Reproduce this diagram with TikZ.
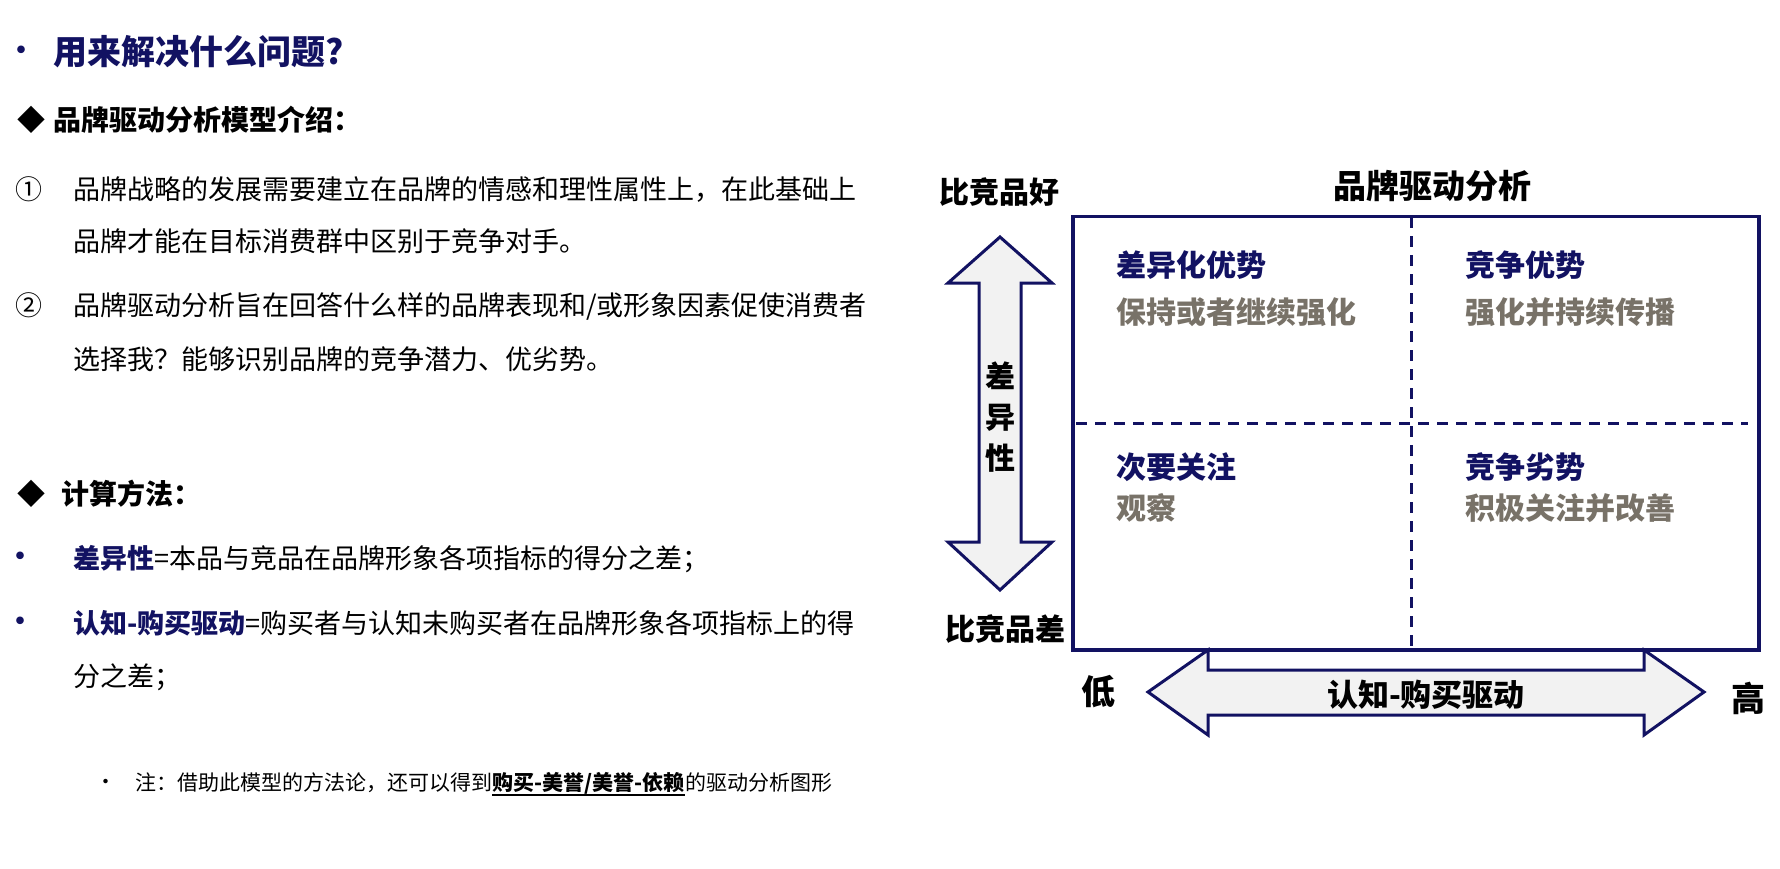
\documentclass[tikz,border=0pt]{standalone}
\usepackage{fontspec}
\setmainfont{Noto Sans CJK SC}
\definecolor{navy}{RGB}{18,18,98}
\definecolor{warmgray}{RGB}{120,114,104}
\definecolor{arrowfill}{RGB}{242,242,242}
\tikzset{
  txt/.style={inner sep=0pt, anchor=base west},
  ctxt/.style={inner sep=0pt, anchor=base},
  titlefont/.style={font=\fontsize{34}{34}\selectfont\bfseries, text=navy},
  headfont/.style={font=\fontsize{28}{28}\selectfont\bfseries},
  bodyfont/.style={font=\fontsize{27}{27}\selectfont},
  bulletfont/.style={font=\fontsize{36}{36}\selectfont, text=navy},
  notefont/.style={font=\fontsize{21}{21}\selectfont},
  notebold/.style={font=\fontsize{21}{21}\selectfont\bfseries},
  axisfont/.style={font=\fontsize{30}{30}\selectfont\bfseries},
  quadhead/.style={font=\fontsize{30}{30}\selectfont\bfseries, text=navy},
  quadsub/.style={font=\fontsize{30}{30}\selectfont\bfseries, text=warmgray},
  bigfont/.style={font=\fontsize{34}{34}\selectfont\bfseries},
  boxline/.style={draw=navy, line width=3.5pt},
  dashline/.style={draw=navy, line width=3pt, dash pattern=on 11pt off 8pt},
  blockarrow/.style={draw=navy, fill=arrowfill, line width=3pt, line join=miter},
}
\begin{document}
\begin{tikzpicture}[x=1pt,y=-1pt]
\fill[white] (0,0) rectangle (1780,869);
\useasboundingbox (0,0) rectangle (1780,869);

% ---------- left column ----------
\node[ctxt, bulletfont] (b0) at (22,64) {•};
\node[txt, titlefont] (t1) at (53,64.6) {用来解决什么问题?};

\node[txt, headfont] (d1) at (17,131) {◆};
\node[txt, headfont] (h1) at (53,131) {品牌驱动分析模型介绍：};

\node[txt, bodyfont] (c1) at (15,199.6) {①};
\node[txt, bodyfont] (p1) at (73,199.6) {品牌战略的发展需要建立在品牌的情感和理性属性上，在此基础上};
\node[txt, bodyfont] (p1b) at (73,251.6) {品牌才能在目标消费群中区别于竞争对手。};
\node[txt, bodyfont] (c2) at (15,315.6) {②};
\node[txt, bodyfont] (p2) at (73,315.6) {品牌驱动分析旨在回答什么样的品牌表现和/或形象因素促使消费者};
\node[txt, bodyfont] (p2b) at (73,369.6) {选择我？能够识别品牌的竞争潜力、优劣势。};

\node[txt, headfont] (d2) at (17,504) {◆};
\node[txt, headfont] (h2) at (61,504) {计算方法：};

\node[ctxt, bulletfont] (b1) at (20,569) {•};
\node[txt, bodyfont] (q1) at (73,568.6) {{\bfseries\color{navy}差异性}=本品与竞品在品牌形象各项指标的得分之差；};
\node[ctxt, bulletfont] (b2) at (20,634) {•};
\node[txt, bodyfont] (q2) at (73,633.6) {{\bfseries\color{navy}认知-购买驱动}=购买者与认知未购买者在品牌形象各项指标上的得};
\node[txt, bodyfont] (q2b) at (73,686.6) {分之差；};

\node[ctxt, notefont] (b3) at (106,789) {•};
\node[txt, notefont] (n1) at (135,790) {注：借助此模型的方法论，还可以得到};
\node[txt, notebold] (n2) at (n1.base east) {购买-美誉/美誉-依赖};
\node[txt, notefont] (n3) at (n2.base east) {的驱动分析图形};
\draw[line width=1.5pt] ([yshift=-1pt]n2.south west) -- ([yshift=-1pt]n2.south east);

% ---------- right: matrix ----------
\node[txt, axisfont] (good) at (939,203.9) {比竞品好};
\node[txt, font=\fontsize{33}{33}\selectfont\bfseries] (ttl) at (1333,198.2) {品牌驱动分析};
\node[txt, axisfont] (bad) at (945,640.9) {比竞品差};

\node[boxline, anchor=north west, inner sep=0pt, minimum width=686pt, minimum height=433pt] (box) at (1071,215) {};
\coordinate (vtop) at (1411,217);
\coordinate (vbot) at (1411,646);
\coordinate (hl) at (1076,423);
\coordinate (hr) at (1748,423);
\draw[dashline] (vtop) -- (vbot);
\draw[dashline] (hl) -- (hr);

\node[txt, quadhead] (q11) at (1116,276.9) {差异化优势};
\node[txt, quadsub]  (q11b) at (1116,323.9) {保持或者继续强化};
\node[txt, quadhead] (q12) at (1465,276.9) {竞争优势};
\node[txt, quadsub]  (q12b) at (1465,323.9) {强化并持续传播};
\node[txt, quadhead] (q21) at (1116,478.9) {次要关注};
\node[txt, quadsub]  (q21b) at (1116,519.9) {观察};
\node[txt, quadhead] (q22) at (1465,478.9) {竞争劣势};
\node[txt, quadsub]  (q22b) at (1465,519.9) {积极关注并改善};

% vertical block arrow
\draw[blockarrow] (1000,237) -- (1052,283) -- (1021,283) -- (1021,542) -- (1052,542)
  -- (1000,590) -- (948,542) -- (979,542) -- (979,283) -- (948,283) -- cycle;
\node[inner sep=0pt, align=center, font=\fontsize{30}{41}\selectfont\bfseries] (vlab) at (1000,417) {差\\异\\性};

% horizontal block arrow
\draw[blockarrow] (1148,692) -- (1208,650) -- (1208,670) -- (1644,670) -- (1644,650)
  -- (1704,692) -- (1644,735) -- (1644,715) -- (1208,715) -- (1208,735) -- cycle;
\node[ctxt, font=\fontsize{31}{31}\selectfont\bfseries] (hlab) at (1426,706.3) {认知-购买驱动};
\node[ctxt, bigfont] (low) at (1098,704.6) {低};
\node[ctxt, bigfont] (high) at (1748,711.6) {高};
\end{tikzpicture}
\end{document}
